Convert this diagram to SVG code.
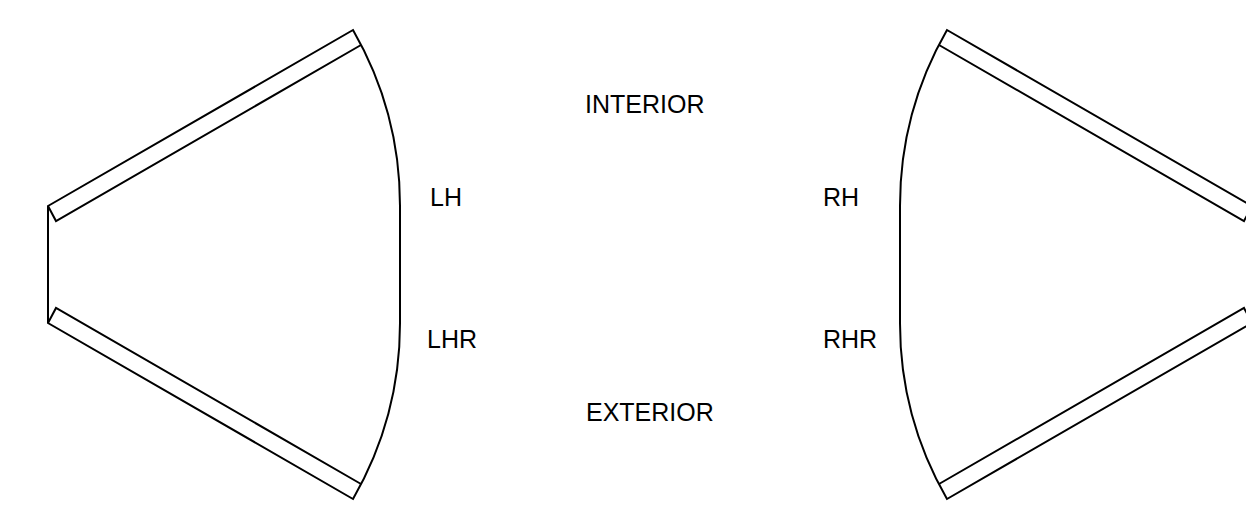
<svg xmlns="http://www.w3.org/2000/svg" width="1246" height="506" viewBox="0 0 1246 506">
<style>
.l{fill:none;stroke:#000;stroke-width:2;stroke-linejoin:miter}
text{font-family:"Liberation Sans",Arial,sans-serif;font-size:25px;fill:#000}
</style>
<rect width="1246" height="506" fill="#fff"/>
<g id="connectors">
<g id="left-shape">
<path class="l" d="M48 206L353 30A352 352 0 0 1 400 206V323A352 352 0 0 1 353 499L48 323Z"/>
<path class="l" d="M48 206L56 221L361 45"/>
<path class="l" d="M48 323L56 308L361 484"/>
</g>
<g id="right-shape">
<path class="l" d="M1252 206L947 30A352 352 0 0 0 900 206V323A352 352 0 0 0 947 499L1252 323"/>
<path class="l" d="M1252 206L1244 221L939 45"/>
<path class="l" d="M1252 323L1244 308L939 484"/>
</g>
</g>
<g id="label-interior"><text x="585" y="113">INTERIOR</text></g>
<g id="label-exterior"><text x="586" y="421">EXTERIOR</text></g>
<g id="label-lh"><text x="430" y="206">LH</text></g>
<g id="label-lhr"><text x="427" y="348">LHR</text></g>
<g id="label-rh"><text x="823" y="206">RH</text></g>
<g id="label-rhr"><text x="823" y="348">RHR</text></g>
</svg>
